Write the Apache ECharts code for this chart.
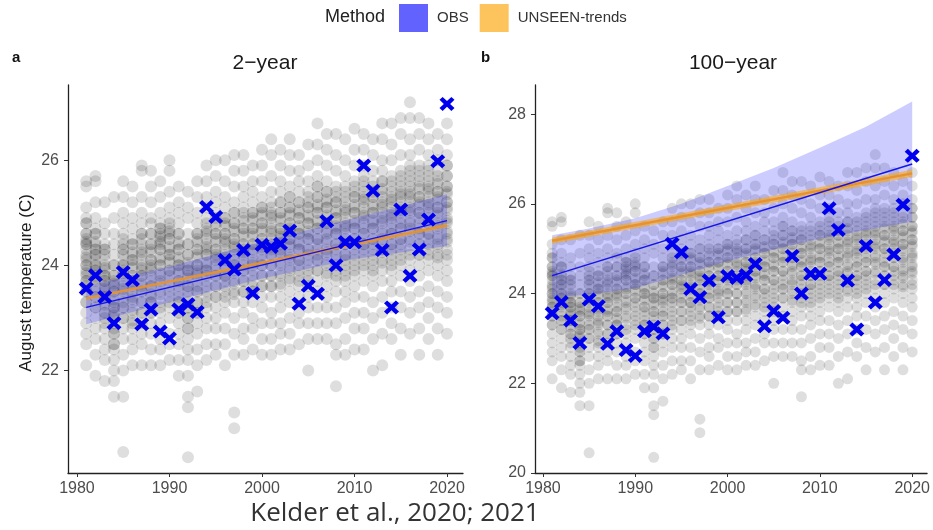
<!DOCTYPE html>
<html lang="en">
<head>
    <meta charset="UTF-8">
    <title>August temperature return levels</title>
    <script type="text/javascript" src="https://cdn.jsdelivr.net/npm/echarts@6/dist/echarts.min.js"></script>
    <style>
        body { margin: 0; background: #fff; }
    </style>
</head>
<body>
    <div id="main" style="width: 933px; height: 530px"></div>
    <script type="text/javascript">
        // years and observed August temperatures (blue crosses)
        var years = [1981, 1982, 1983, 1984, 1985, 1986, 1987, 1988, 1989, 1990,
            1991, 1992, 1993, 1994, 1995, 1996, 1997, 1998, 1999, 2000,
            2001, 2002, 2003, 2004, 2005, 2006, 2007, 2008, 2009, 2010,
            2011, 2012, 2013, 2014, 2015, 2016, 2017, 2018, 2019, 2020];
        var obsTemp = [23.56, 23.81, 23.4, 22.9, 23.87, 23.72, 22.88, 23.16, 22.74, 22.61,
            23.16, 23.26, 23.11, 25.11, 24.92, 24.1, 23.92, 24.29, 23.47, 24.39,
            24.35, 24.41, 24.66, 23.27, 23.61, 23.46, 24.84, 24.0, 24.44, 24.44,
            25.9, 25.42, 24.29, 23.2, 25.06, 23.8, 24.3, 24.87, 25.98, 27.07];

        // UNSEEN ensemble members per year (grey cloud): full spread
        var cloudTemp = [
            [25.6, 25.5, 25.1, 24.9, 24.8, 24.6, 24.5, 24.4, 24.4, 24.2, 24.1, 24.0, 23.9, 23.8, 23.7, 23.6, 23.5, 23.3, 23.1, 22.9, 22.7, 22.5, 22.1],
            [25.7, 25.6, 25.2, 24.9, 24.7, 24.6, 24.4, 24.3, 24.2, 24.1, 24.0, 23.9, 23.8, 23.7, 23.5, 23.4, 23.2, 23.0, 22.8, 22.6, 22.3, 21.9],
            [25.2, 24.8, 24.6, 24.4, 24.3, 24.2, 24.0, 23.9, 23.8, 23.7, 23.6, 23.5, 23.4, 23.3, 23.1, 23.0, 22.8, 22.6, 22.4, 22.2, 21.8],
            [25.3, 24.9, 24.6, 24.4, 24.2, 24.0, 23.8, 23.7, 23.6, 23.5, 23.3, 23.2, 23.1, 23.0, 22.8, 22.7, 22.5, 22.4, 22.2, 22.0, 21.8, 21.5],
            [25.6, 25.3, 25.0, 24.8, 24.6, 24.4, 24.3, 24.1, 24.0, 23.9, 23.8, 23.6, 23.5, 23.3, 23.2, 23.0, 22.8, 22.6, 22.3, 22.0, 21.5, 20.45],
            [25.5, 25.2, 24.9, 24.7, 24.5, 24.4, 24.2, 24.1, 24.0, 23.8, 23.7, 23.6, 23.4, 23.3, 23.1, 22.9, 22.8, 22.6, 22.4, 22.1],
            [25.9, 25.8, 25.3, 25.0, 24.8, 24.6, 24.5, 24.3, 24.2, 24.0, 23.9, 23.8, 23.6, 23.5, 23.3, 23.1, 22.9, 22.7, 22.5, 22.1],
            [25.8, 25.5, 25.2, 24.9, 24.8, 24.6, 24.4, 24.3, 24.1, 24.0, 23.9, 23.7, 23.6, 23.4, 23.3, 23.1, 22.9, 22.7, 22.4, 22.1],
            [25.6, 25.3, 25.0, 24.8, 24.7, 24.6, 24.5, 24.4, 24.3, 24.1, 24.0, 23.8, 23.7, 23.5, 23.3, 23.1, 22.9, 22.6, 22.4, 22.1],
            [26.0, 25.8, 25.4, 25.1, 24.9, 24.7, 24.6, 24.5, 24.3, 24.2, 24.1, 23.9, 23.8, 23.6, 23.4, 23.2, 23.0, 22.7, 22.5, 22.2],
            [25.5, 25.2, 25.0, 24.8, 24.6, 24.4, 24.3, 24.1, 24.0, 23.9, 23.7, 23.6, 23.4, 23.3, 23.1, 22.9, 22.7, 22.5, 22.2, 21.9],
            [25.4, 25.1, 24.9, 24.6, 24.4, 24.2, 24.0, 23.9, 23.8, 23.6, 23.5, 23.3, 23.2, 23.0, 22.8, 22.6, 22.4, 22.2, 21.9, 21.5, 21.3, 20.35],
            [25.6, 25.3, 25.0, 24.8, 24.6, 24.5, 24.3, 24.2, 24.0, 23.9, 23.8, 23.6, 23.5, 23.3, 23.1, 22.9, 22.7, 22.4, 22.1, 21.6],
            [25.9, 25.6, 25.3, 25.1, 24.9, 24.7, 24.6, 24.4, 24.3, 24.2, 24.0, 23.9, 23.8, 23.6, 23.4, 23.2, 23.0, 22.8, 22.5, 22.2],
            [26.0, 25.7, 25.4, 25.2, 25.0, 24.8, 24.6, 24.5, 24.3, 24.2, 24.1, 23.9, 23.8, 23.6, 23.4, 23.2, 23.0, 22.8, 22.5, 22.3],
            [26.0, 25.6, 25.3, 25.1, 24.9, 24.8, 24.6, 24.5, 24.4, 24.2, 24.1, 24.0, 23.8, 23.7, 23.5, 23.3, 23.1, 22.8, 22.5, 22.1],
            [26.1, 25.8, 25.5, 25.2, 25.0, 24.8, 24.7, 24.5, 24.4, 24.3, 24.1, 24.0, 23.9, 23.7, 23.5, 23.3, 23.0, 22.7, 22.3, 21.2, 20.9],
            [26.1, 25.8, 25.5, 25.3, 25.1, 24.9, 24.7, 24.6, 24.4, 24.3, 24.2, 24.0, 23.9, 23.7, 23.5, 23.3, 23.1, 22.8, 22.6, 22.3],
            [25.9, 25.6, 25.4, 25.2, 25.0, 24.9, 24.7, 24.6, 24.4, 24.3, 24.1, 24.0, 23.8, 23.6, 23.5, 23.3, 23.0, 22.8, 22.4],
            [26.2, 25.9, 25.6, 25.3, 25.1, 25.0, 24.8, 24.7, 24.5, 24.4, 24.3, 24.1, 24.0, 23.8, 23.6, 23.4, 23.2, 22.9, 22.6, 22.3],
            [26.4, 26.1, 25.7, 25.4, 25.2, 25.0, 24.9, 24.7, 24.6, 24.4, 24.3, 24.2, 24.0, 23.8, 23.6, 23.4, 23.1, 22.9, 22.6, 22.3],
            [26.2, 25.9, 25.6, 25.4, 25.2, 25.0, 24.9, 24.7, 24.6, 24.5, 24.3, 24.2, 24.0, 23.8, 23.6, 23.4, 23.2, 22.9, 22.7, 22.4],
            [26.4, 26.1, 25.8, 25.5, 25.3, 25.1, 25.0, 24.8, 24.7, 24.5, 24.4, 24.2, 24.1, 23.9, 23.7, 23.5, 23.3, 23.0, 22.7, 22.4],
            [26.1, 25.8, 25.6, 25.4, 25.2, 25.0, 24.9, 24.7, 24.6, 24.4, 24.3, 24.1, 24.0, 23.8, 23.6, 23.4, 23.1, 22.9, 22.5],
            [26.3, 25.9, 25.6, 25.4, 25.2, 25.1, 24.9, 24.8, 24.6, 24.5, 24.3, 24.2, 24.0, 23.8, 23.6, 23.4, 23.2, 22.9, 22.6, 22.0],
            [26.7, 26.3, 26.0, 25.7, 25.5, 25.3, 25.1, 25.0, 24.8, 24.7, 24.5, 24.4, 24.2, 24.1, 23.9, 23.7, 23.5, 23.2, 22.9, 22.6],
            [26.5, 26.2, 25.9, 25.6, 25.4, 25.2, 25.1, 24.9, 24.8, 24.6, 24.5, 24.3, 24.2, 24.0, 23.8, 23.6, 23.4, 23.2, 22.9, 22.6],
            [26.5, 26.1, 25.8, 25.5, 25.3, 25.2, 25.0, 24.9, 24.7, 24.6, 24.4, 24.3, 24.1, 23.9, 23.7, 23.5, 23.2, 22.9, 22.5, 22.3, 21.7],
            [26.4, 26.0, 25.7, 25.5, 25.3, 25.1, 25.0, 24.8, 24.7, 24.5, 24.4, 24.2, 24.1, 23.9, 23.7, 23.5, 23.3, 23.0, 22.6, 22.3],
            [26.6, 26.2, 25.9, 25.6, 25.4, 25.3, 25.1, 25.0, 24.8, 24.7, 24.5, 24.4, 24.2, 24.0, 23.8, 23.6, 23.4, 23.1, 22.8, 22.4],
            [26.5, 26.2, 25.9, 25.7, 25.5, 25.3, 25.2, 25.0, 24.9, 24.7, 24.6, 24.4, 24.3, 24.1, 23.9, 23.7, 23.4, 23.1, 22.8, 22.4],
            [26.4, 26.1, 25.8, 25.6, 25.4, 25.3, 25.1, 25.0, 24.8, 24.7, 24.5, 24.4, 24.2, 24.0, 23.8, 23.6, 23.3, 23.0, 22.6, 22.0],
            [26.7, 26.4, 26.0, 25.8, 25.6, 25.4, 25.2, 25.1, 24.9, 24.8, 24.6, 24.5, 24.3, 24.1, 23.9, 23.7, 23.4, 23.1, 22.7, 22.1],
            [26.7, 26.3, 26.0, 25.7, 25.5, 25.3, 25.2, 25.0, 24.9, 24.7, 24.6, 24.4, 24.3, 24.1, 23.9, 23.7, 23.5, 23.2, 22.9, 22.6],
            [26.8, 26.5, 26.1, 25.8, 25.6, 25.4, 25.3, 25.1, 25.0, 24.8, 24.7, 24.5, 24.4, 24.2, 24.0, 23.8, 23.5, 23.2, 22.8, 22.3],
            [27.1, 26.8, 26.4, 26.1, 25.8, 25.6, 25.4, 25.3, 25.1, 25.0, 24.8, 24.7, 24.5, 24.3, 24.1, 23.9, 23.7, 23.4, 23.1, 22.7],
            [26.8, 26.5, 26.2, 25.9, 25.7, 25.5, 25.3, 25.2, 25.0, 24.9, 24.7, 24.6, 24.4, 24.2, 24.0, 23.8, 23.5, 23.2, 22.8, 22.3],
            [26.7, 26.4, 26.1, 25.9, 25.7, 25.5, 25.4, 25.2, 25.1, 24.9, 24.8, 24.6, 24.5, 24.3, 24.1, 23.9, 23.6, 23.3, 23.0, 22.6],
            [26.5, 26.2, 26.0, 25.8, 25.6, 25.4, 25.3, 25.1, 25.0, 24.8, 24.7, 24.5, 24.4, 24.2, 24.0, 23.8, 23.5, 23.2, 22.8, 22.3],
            [26.7, 26.4, 26.1, 25.9, 25.7, 25.5, 25.4, 25.2, 25.1, 24.9, 24.8, 24.6, 24.5, 24.3, 24.1, 23.9, 23.7, 23.4, 23.1, 22.7]
        ];
        // extra members in the dense core of each year's spread
        var cloudCore = [
            [24.8, 24.6, 24.45, 24.3, 24.15, 24.0, 23.85, 23.7, 23.5, 23.3],
            [24.6, 24.45, 24.3, 24.2, 24.0, 23.9, 23.75, 23.6, 23.4, 23.2],
            [24.3, 24.1, 23.95, 23.8, 23.7, 23.55, 23.4, 23.25, 23.1, 22.9],
            [24.0, 23.8, 23.65, 23.5, 23.35, 23.2, 23.05, 22.9, 22.7, 22.5],
            [24.5, 24.3, 24.2, 24.0, 23.85, 23.7, 23.55, 23.4, 23.2, 23.0],
            [24.4, 24.25, 24.1, 23.95, 23.8, 23.65, 23.5, 23.35, 23.15, 22.95],
            [24.6, 24.4, 24.25, 24.1, 23.95, 23.8, 23.65, 23.5, 23.3, 23.1],
            [24.6, 24.4, 24.25, 24.1, 23.95, 23.8, 23.6, 23.45, 23.3, 23.1],
            [24.7, 24.55, 24.45, 24.3, 24.15, 24.0, 23.85, 23.65, 23.45, 23.2],
            [24.8, 24.65, 24.5, 24.35, 24.2, 24.05, 23.9, 23.7, 23.5, 23.3],
            [24.6, 24.45, 24.3, 24.15, 24.0, 23.85, 23.7, 23.5, 23.3, 23.1],
            [24.4, 24.2, 24.05, 23.9, 23.75, 23.6, 23.4, 23.2, 23.0, 22.8],
            [24.6, 24.45, 24.3, 24.15, 24.0, 23.85, 23.7, 23.5, 23.3, 23.1],
            [24.8, 24.65, 24.5, 24.35, 24.2, 24.05, 23.9, 23.7, 23.5, 23.3],
            [24.9, 24.75, 24.6, 24.45, 24.3, 24.15, 24.0, 23.8, 23.6, 23.4],
            [24.9, 24.75, 24.6, 24.45, 24.3, 24.15, 23.95, 23.8, 23.6, 23.4],
            [25.0, 24.8, 24.65, 24.5, 24.35, 24.2, 24.0, 23.85, 23.65, 23.45],
            [25.0, 24.85, 24.7, 24.55, 24.4, 24.25, 24.1, 23.9, 23.7, 23.5],
            [25.0, 24.85, 24.7, 24.55, 24.4, 24.25, 24.05, 23.9, 23.7, 23.5],
            [25.1, 24.95, 24.8, 24.65, 24.5, 24.35, 24.2, 24.0, 23.8, 23.6],
            [25.1, 24.95, 24.8, 24.65, 24.5, 24.35, 24.2, 24.0, 23.8, 23.6],
            [25.2, 25.0, 24.85, 24.7, 24.55, 24.4, 24.25, 24.05, 23.85, 23.65],
            [25.3, 25.1, 24.95, 24.8, 24.65, 24.5, 24.35, 24.15, 23.95, 23.75],
            [25.2, 25.05, 24.9, 24.75, 24.6, 24.45, 24.3, 24.1, 23.9, 23.7],
            [25.3, 25.1, 24.95, 24.8, 24.65, 24.5, 24.3, 24.1, 23.9, 23.7],
            [25.5, 25.3, 25.15, 25.0, 24.85, 24.7, 24.5, 24.3, 24.1, 23.9],
            [25.4, 25.25, 25.1, 24.95, 24.8, 24.65, 24.45, 24.25, 24.05, 23.85],
            [25.4, 25.2, 25.05, 24.9, 24.75, 24.6, 24.4, 24.2, 24.0, 23.8],
            [25.4, 25.2, 25.05, 24.9, 24.75, 24.6, 24.4, 24.2, 24.0, 23.8],
            [25.5, 25.3, 25.15, 25.0, 24.85, 24.7, 24.5, 24.3, 24.1, 23.9],
            [25.6, 25.4, 25.25, 25.1, 24.95, 24.8, 24.6, 24.4, 24.2, 24.0],
            [25.5, 25.3, 25.15, 25.0, 24.85, 24.7, 24.5, 24.3, 24.1, 23.9],
            [25.6, 25.45, 25.3, 25.15, 25.0, 24.85, 24.65, 24.45, 24.25, 24.05],
            [25.6, 25.4, 25.25, 25.1, 24.95, 24.8, 24.6, 24.4, 24.2, 24.0],
            [25.7, 25.5, 25.35, 25.2, 25.05, 24.9, 24.7, 24.5, 24.3, 24.1],
            [25.9, 25.7, 25.5, 25.35, 25.2, 25.05, 24.85, 24.65, 24.45, 24.2],
            [25.8, 25.6, 25.45, 25.3, 25.15, 25.0, 24.8, 24.6, 24.4, 24.2],
            [25.8, 25.6, 25.45, 25.3, 25.15, 25.0, 24.8, 24.6, 24.4, 24.2],
            [25.7, 25.55, 25.4, 25.25, 25.1, 24.95, 24.75, 24.55, 24.35, 24.15],
            [25.9, 25.7, 25.5, 25.35, 25.2, 25.05, 24.85, 24.65, 24.45, 24.2]
        ];

        // fitted trend lines (start / end year)
        var fitYears = [1981, 2020];
        var obsFit2 = [23.2, 24.85];
        var unseenFit2 = [23.37, 24.76];
        var obsFit100 = [24.4, 26.89];
        var unseenFit100 = [25.18, 26.68];

        // confidence bands
        var band2Years = [1981, 1990, 2000, 2010, 2020];
        var obsLo2 = [22.88, 23.3, 23.75, 24.12, 24.37];
        var obsHi2 = [23.6, 23.98, 24.45, 24.9, 25.35];
        var unseenLo2 = [23.34, 24.72];
        var unseenHi2 = [23.4, 24.8];

        var band100Years = [1981, 1985, 1990, 1995, 2000, 2005, 2010, 2015, 2020];
        var obsLo100 = [23.92, 23.98, 24.12, 24.42, 24.72, 24.98, 25.22, 25.42, 25.6];
        var obsHi100 = [25.3, 25.45, 25.68, 26.0, 26.4, 26.8, 27.25, 27.72, 28.28];
        var unseenLo100 = [25.11, 26.6];
        var unseenHi100 = [25.25, 26.76];

        var xTicks = [1980, 1990, 2000, 2010, 2020];
        var yTicks2 = [22, 24, 26];
        var yTicks100 = [20, 22, 24, 26, 28];

        var FONT = 'Liberation Sans, Arial, sans-serif';
        var crossPath = 'path://M0,2.1L2.1,0L5,2.9L7.9,0L10,2.1L7.1,5L10,7.9L7.9,10L5,7.1L2.1,10L0,7.9L2.9,5Z';

        function pairs(xs, ys) {
            return xs.map(function (x, i) { return [x, ys[i]]; });
        }

        var cloudData = [];
        years.forEach(function (y, i) {
            cloudTemp[i].forEach(function (v) { cloudData.push([y, v]); });
            cloudCore[i].forEach(function (v) { cloudData.push([y, v]); });
        });

        // band polygon drawn through the axis scales
        function bandSeries(name, idx, xs, lo, hi, color, z) {
            var rows = xs.map(function (x, i) { return [x, lo[i], hi[i]]; });
            return {
                type: 'custom',
                name: name,
                xAxisIndex: idx,
                yAxisIndex: idx,
                z: z,
                silent: true,
                itemStyle: { color: color },
                data: rows,
                encode: { x: 0, y: [1, 2] },
                renderItem: function (params, api) {
                    if (params.dataIndex !== 0) return;
                    var pts = [];
                    rows.forEach(function (r) { pts.push(api.coord([r[0], r[2]])); });
                    for (var i = rows.length - 1; i >= 0; i--) {
                        pts.push(api.coord([rows[i][0], rows[i][1]]));
                    }
                    return {
                        type: 'polygon',
                        shape: { points: pts },
                        style: { fill: color }
                    };
                }
            };
        }

        function lineSeries(idx, ys, color, width, z) {
            return {
                type: 'line',
                xAxisIndex: idx,
                yAxisIndex: idx,
                data: pairs(fitYears, ys),
                symbol: 'none',
                silent: true,
                z: z,
                lineStyle: { color: color, width: width }
            };
        }

        function cloudSeries(idx, size) {
            return {
                type: 'scatter', xAxisIndex: idx, yAxisIndex: idx, data: cloudData,
                symbolSize: size, silent: true, z: 1,
                itemStyle: { color: 'rgba(0,0,0,0.13)', opacity: 1 }
            };
        }

        function obsSeries(idx) {
            return {
                type: 'scatter', xAxisIndex: idx, yAxisIndex: idx, data: pairs(years, obsTemp),
                symbol: crossPath, symbolSize: [15, 14], silent: true, z: 6,
                itemStyle: { color: '#0000ee', opacity: 1 }
            };
        }

        function axisCommon(custom) {
            return {
                axisLine: { lineStyle: { color: '#222', width: 1.3 } },
                axisTick: { show: true, length: 4, lineStyle: { color: '#333' }, customValues: custom },
                axisLabel: {
                    color: '#4d4d4d', fontSize: 16, fontFamily: FONT, margin: 8, customValues: custom,
                    formatter: function (v) { return String(v); }
                },
                splitLine: { show: false }
            };
        }

        function xAxis(idx, min, max) {
            return Object.assign({ type: 'value', gridIndex: idx, min: min, max: max }, axisCommon(xTicks));
        }
        function yAxis(idx, min, max, ticks) {
            var a = Object.assign({ type: 'value', gridIndex: idx, min: min, max: max }, axisCommon(ticks));
            a.axisLabel.margin = 9;
            return a;
        }

        var myChart = echarts.init(document.getElementById('main'));

        myChart.setOption({
            backgroundColor: '#fff',
            animation: false,
            grid: [
                { left: 68, top: 85, width: 395, height: 388 },
                { left: 535, top: 85, width: 395, height: 388 }
            ],
            xAxis: [xAxis(0, 1979.03, 2021.73), xAxis(1, 1979.14, 2021.61)],
            yAxis: [yAxis(0, 20.05, 27.43, yTicks2), yAxis(1, 20, 28.65, yTicks100)],
            legend: {
                left: 399,
                top: 4,
                padding: 0,
                icon: 'rect',
                itemWidth: 29,
                itemHeight: 28,
                itemGap: 11,
                selectedMode: false,
                textStyle: { fontSize: 15, color: '#333', fontFamily: FONT, padding: [0, 0, 0, 4] },
                data: [
                    { name: 'OBS', itemStyle: { color: '#6262ff' } },
                    { name: 'UNSEEN-trends', itemStyle: { color: '#fdc35c' } }
                ]
            },
            graphic: [
                { type: 'text', left: 325, top: 8, style: { text: 'Method', font: '18px ' + FONT, fill: '#222' } },
                { type: 'text', left: 12, top: 50, style: { text: 'a', font: 'bold 15px ' + FONT, fill: '#111' } },
                { type: 'text', left: 481, top: 50, style: { text: 'b', font: 'bold 15px ' + FONT, fill: '#111' } },
                { type: 'text', x: 265, y: 63, style: { text: '2\u2212year', font: '21px ' + FONT, fill: '#1a1a1a', align: 'center', verticalAlign: 'middle' } },
                { type: 'text', x: 733, y: 63, style: { text: '100\u2212year', font: '21px ' + FONT, fill: '#1a1a1a', align: 'center', verticalAlign: 'middle' } },
                { type: 'text', x: 26, y: 283, rotation: Math.PI / 2, style: { text: 'August temperature (C)', font: '17px ' + FONT, fill: '#1a1a1a', align: 'center', verticalAlign: 'middle' } },
                { type: 'text', x: 395, y: 514, style: { text: 'Kelder et al., 2020; 2021', font: '26px Open Sans', fill: '#333', align: 'center', verticalAlign: 'middle' } }
            ],
            series: [
                // panel a: 2-year
                cloudSeries(0, 12),
                bandSeries('OBS', 0, band2Years, obsLo2, obsHi2, 'rgba(40,40,255,0.24)', 2),
                bandSeries('UNSEEN-trends', 0, fitYears, unseenLo2, unseenHi2, 'rgba(255,165,0,0.45)', 3),
                lineSeries(0, unseenFit2, '#e3913a', 1.8, 4),
                lineSeries(0, obsFit2, '#1414ee', 1.5, 5),
                obsSeries(0),

                // panel b: 100-year
                cloudSeries(1, 11),
                bandSeries('OBS', 1, band100Years, obsLo100, obsHi100, 'rgba(40,40,255,0.24)', 2),
                bandSeries('UNSEEN-trends', 1, fitYears, unseenLo100, unseenHi100, 'rgba(255,165,0,0.55)', 3),
                lineSeries(1, unseenFit100, '#e8922f', 2.5, 4),
                lineSeries(1, obsFit100, '#1414ee', 1.5, 5),
                obsSeries(1)
            ]
        });
    </script>
</body>
</html>
